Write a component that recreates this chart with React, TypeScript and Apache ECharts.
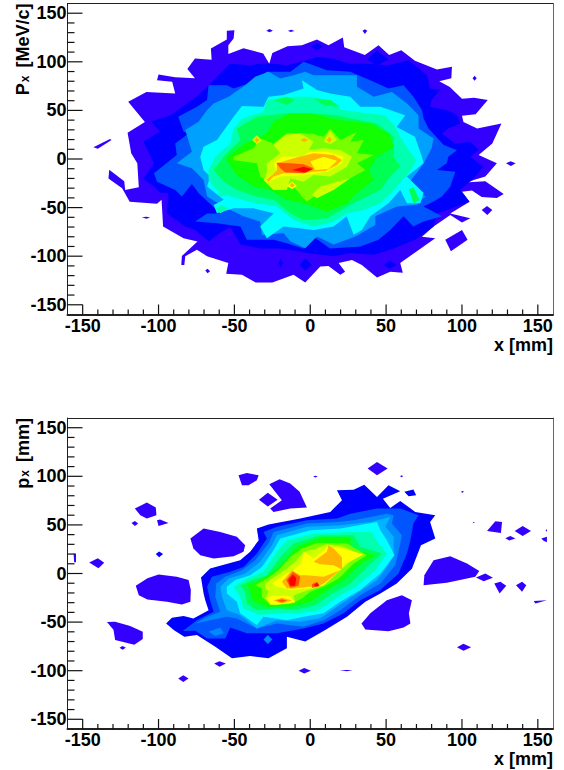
import React, { useEffect, useRef } from "react";
import * as echarts from "echarts";

const xMajorTicks = [-150, -100, -50, 0, 50, 100, 150];
const minorTicks = [-140, -130, -120, -110, -90, -80, -70, -60, -40, -30, -20, -10, 10, 20, 30, 40, 60, 70, 80, 90, 110, 120, 130, 140];
const palette = ["#3300ff", "#0000ff", "#0055ff", "#0088ff", "#00b4ff", "#00ffff", "#00ffb0", "#00ff55", "#11ff00", "#77ff00", "#ccff00", "#ffff00", "#ffb400", "#ff5500", "#ff0000", "#00a0ff"];

// ---- top panel: contour polygons in [x mm, Px MeV/c]
const topViolet = [
  [[-55,132],[-50,132.5],[-50.5,124],[-54,117],[-54,108],[-44,114],[-31,108.5],[-27,98],[-25,109],[-15,116],[-5.5,117],[4.4,123],[12,117],[21.5,125],[22.4,115],[36,107],[45,117],[52,107],[60,112],[69,101],[83.5,92],[93.4,95],[93,83],[85,80],[92,74],[100,62],[108,63],[117,60.6],[109,46],[100,44.5],[101,38],[110,31.5],[126,36.6],[120,16],[111,4],[123,-4.5],[115.4,-18],[107.7,-21.6],[104.4,-24],[115.4,-23],[127.5,-36],[123,-40],[113,-39],[106.6,-32.5],[100,-33.6],[105,-44],[92.3,-56],[105.5,-61],[100,-65.4],[92.3,-57.5],[81.3,-69.5],[73.6,-80],[82.4,-81.5],[59.3,-107],[61,-117],[52.7,-116],[44,-122],[34,-109],[27.5,-104],[18.7,-107],[23,-116],[19.8,-119],[12,-110],[6.6,-110.6],[-3.3,-127],[-11,-119],[-25,-127],[-36,-127],[-45,-119],[-55.4,-118],[-54,-107],[-68,-100],[-74.7,-93.5],[-82.4,-100],[-83,-109],[-85,-109],[-84.6,-99.7],[-74.3,-85],[-83.5,-81.5],[-97,-69.5],[-98,-42],[-101,-46],[-119,-44],[-124,-30],[-133,-20],[-132.5,-11],[-122.6,-23],[-122,-32],[-113,-29],[-114,-4.5],[-118,6],[-120.4,27],[-109,38],[-120,59],[-108,69],[-89,67.5],[-91,79.5],[-101,81],[-100,87],[-89,84],[-76,83],[-81,92.5],[-76,103.4],[-65,102],[-65.5,113.7],[-55,123]],
  [[-142.9,12],[-132,20.5],[-131,19.5],[-140,10.6]],
  [[-111,-60],[-108,-59.3],[-105.5,-60.3],[-108,-61.6]],
  [[-69.2,-114.8],[-67.7,-112.8],[-66,-115.5],[-67.7,-117.5]],
  [[-29,132],[-26.8,133.8],[-24.6,132],[-26.8,130.5]],
  [[-14.7,132],[-12.5,133],[-10.4,131.8],[-13,130.8]],
  [[34.5,132],[36,133.5],[37.6,132],[36,128.6]],
  [[107,83],[108.3,85.6],[109.7,83],[108.3,80.5]],
  [[129,-4.5],[132,-2.4],[135.4,-4.5],[132.3,-7.2]],
  [[113,-52.4],[116.5,-48.3],[120,-52.4],[116.7,-57.5]],
  [[89,-83],[100,-73],[103.7,-83],[92.7,-95]],
];
const topBlue = [
  [[-110,-20.5],[-103,-4.4],[-110,18],[-99,28],[-105,38.7],[-92,45],[-75,64],[-68,74],[-53,98],[-39.6,96.5],[-33,98],[-24,98],[-15.4,96.5],[-5.5,100],[4.4,105],[14.3,103.4],[26.4,98],[37.4,98],[51.6,96.5],[65,101.7],[77,86],[79,72.6],[85.7,71],[80,60.6],[79,53.8],[91,50],[96.7,45],[99,36.6],[91,31.5],[86.8,26],[95.6,16],[105.5,17.8],[111,9],[105.5,2.4],[114,-8],[108.8,-18],[99,-32],[105,-44],[91,-52],[83.5,-56],[81.3,-69.5],[69,-83],[55,-92],[41.8,-98.6],[26.4,-97],[15.4,-100],[-1,-97],[-19.8,-92],[-33,-92],[-46,-88],[-52.7,-70],[-59.3,-76],[-67,-85],[-75.8,-73],[-82.4,-69.5],[-94.5,-56],[-93.4,-35],[-99,-34.6],[-103,-28.4]],
  [[-7,-109],[-3.3,-102],[1,-109],[-3.3,-115]],
  [[-21,-107],[-19.3,-102],[-18,-107],[-19.3,-112]],
  [[48.4,-109],[52.4,-104.8],[57,-109],[52.4,-112.8]],
  [[0.4,115.5],[4.4,119.5],[8.4,115.5],[4.4,112]],
  [[37.4,102],[44,112],[51.6,102],[44,96.5]],
];
const topMid = [
  [[-103,-14.7],[-88,4],[-89,16],[-80,26.4],[-83.5,28],[-87,43.5],[-74.7,53.8],[-68,60.6],[-67,76],[-55,76],[-50.5,72.6],[-40.7,77.7],[-28.6,89.7],[-13,89.7],[-4.4,100],[11,91.4],[26.4,89.7],[41.8,79.5],[51.6,72.6],[61.5,76],[68,64],[73.6,50.3],[74.7,41.8],[78,31.5],[88,14.4],[96.7,9],[91,2.4],[90,-4.4],[83.5,-11.3],[95.6,-13],[92.3,-28.4],[86.8,-38.7],[81.3,-43.8],[74.7,-49],[86.8,-59],[74.7,-64.4],[68,-69.5],[61.5,-59],[52.7,-73],[45,-83],[33,-90],[13,-92],[2.2,-80],[-4.4,-92],[-15.4,-86.6],[-24,-83],[-41.8,-83],[-46,-69.5],[-61.5,-66],[-75.8,-64.4],[-68,-56],[-59.3,-56],[-73.6,-35],[-78,-25.7],[-84.6,-38.7],[-89,-32],[-101,-23.3]],
];
const topAzure = [
  [[-88,-4.4],[-78,7.5],[-82.4,29.8],[-73.6,38.4],[-68,50.3],[-63.7,57],[-53.8,64],[-42.9,76],[-36.3,84.6],[-27.5,89.7],[-19.8,82.9],[-11,86.3],[-3.3,89.7],[2.2,86.3],[17.6,86.3],[30.8,86.3],[30.8,74.3],[41.8,64],[53.8,69],[63.7,57],[71.4,45],[71.4,31.5],[81.3,21],[80,11],[74.7,-4.4],[70,-14.7],[64.8,-25],[75.8,-38.7],[70,-47],[57,-49],[42.9,-59],[42.9,-67.8],[29.7,-79.8],[15.4,-88],[4.4,-79.8],[-3.3,-91.8],[-13,-85],[-17.6,-76.4],[-31.9,-78],[-33,-64.4],[-44,-59],[-55,-50.7],[-68,-38.7],[-70.3,-21.6],[-78,-9.6]],
];
const topCyan = [
  [[-72.5,2.4],[-70.3,12.7],[-61.5,19.5],[-50.5,43.5],[-45,54.5],[-30.8,53.8],[-27.5,64],[-17.6,65.8],[-4.4,72.6],[-5.5,81],[4.4,70.9],[13.2,67.5],[26.4,64],[33,53.8],[46.2,53.8],[62.6,45],[57,33],[69,23],[73.6,2.4],[74.7,-4.4],[63.7,-18],[74.7,-35],[72.5,-45.5],[63.7,-45.5],[59.3,-32],[51.6,-45.5],[39.6,-59],[34,-73],[28.6,-78],[24,-59],[15.4,-69.5],[2.2,-73],[-8.8,-71],[-17.6,-69.5],[-28.6,-81.5],[-33,-69.5],[-24,-55.8],[-37.4,-50.7],[-50.5,-50.7],[-61.5,-55.8],[-63.7,-47.3],[-57,-42],[-68,-28.4],[-66,-18],[-70.3,-11.3]],
];
const topAqua = [
  [[-67,-11.3],[-62.6,2.4],[-52.7,16],[-50.5,31.5],[-45,41.8],[-30.8,48.6],[-28.6,60.6],[-11,64],[0,64],[11,60.6],[20.9,50.3],[37.4,47],[49.5,45],[56,33.2],[59.3,23],[64.8,9.2],[70,-1],[64.8,-14.7],[55,-32],[46.2,-45.5],[35.2,-52.4],[24.2,-55.8],[15.4,-64.4],[2.2,-69.5],[-11,-62.7],[-22,-49],[-35.2,-45.5],[-52.7,-38.7],[-61.5,-31.8],[-67,-21.6]],
  [[-61.5,-35],[-54.9,-33.5],[-52.7,-37],[-59.3,-38.5]],
  [[-62.6,-51],[-58.2,-47.3],[-53.8,-51],[-59.3,-55.8]],
];
const topSpring = [
  [[-63.7,-11.3],[-57,2.4],[-46,19.5],[-48.4,31.5],[-35.2,43.5],[-15.4,47],[0,47],[17.6,45],[33,40],[44,36.6],[55,23],[55,2.4],[59.3,-8],[52.7,-18],[46.2,-32],[33,-42],[24.2,-49],[11,-61],[-4.4,-62.7],[-13.2,-55.8],[-24,-42],[-35.2,-38.7],[-48.4,-31.8],[-57,-23.3]],
  [[-24.2,60.6],[-15.4,64],[-10,60.6],[-15.4,55.5]],
  [[2.2,62.3],[13.2,60.6],[19.8,53.8],[8.8,55.5]],
  [[65,-31],[68,-29],[72,-42],[68,-46]],
];
const topGreen = [
  [[-55,2.4],[-42.9,16],[-28.6,26.4],[-24,38.4],[-13.2,47],[0,47],[19.8,40],[39.6,36.6],[51.6,26.4],[55,12.7],[44,2.4],[38.5,-11.3],[41.8,-21.6],[33,-31.8],[24.2,-45.5],[11,-54],[-4.4,-45.5],[-15.4,-42],[-26.4,-31.8],[-37.4,-28.4],[-48.4,-16.4],[-53.8,-4.4]],
];
const topLime = [
  [[-50.5,2.4],[-37.4,11],[-33,21.2],[-24.2,16],[-15.4,26.4],[0,26.4],[8.8,23],[13.2,31.5],[19.8,19.5],[30.8,28],[26.4,17.8],[35.2,19.5],[30.8,5.8],[41.8,4],[30.8,-4.4],[36.3,-11.3],[24.2,-21.6],[8.8,-31.8],[-2.2,-43.8],[-5.5,-38.7],[-11,-28.4],[-24.2,-26.7],[-33,-18],[-35.2,-4.4],[-50.5,-1]],
];
const topChartreuse = [
  [[-28.6,-4.4],[-19.8,5.8],[-24.2,14.4],[-16.5,24.7],[-6.6,26.4],[2.2,17.8],[-1,9.2],[8.8,11],[19.8,9.2],[27.5,2.4],[24.2,-7.9],[13.2,-18],[2.2,-16.4],[-4.4,-23.3],[-13.2,-19.9],[-15.4,-31.8],[-24.2,-31.8],[-30.8,-21.6],[-28.6,-14.7]],
  [[8.8,17.8],[12.7,29.8],[17.6,19.5],[13.2,15.4]],
  [[1.1,-37],[6.6,-28.4],[22,-21.6],[26.4,-19.9],[15.4,-31.8],[4.4,-40.4]],
  [[-38.5,19.5],[-35.2,24.7],[-31.9,18.8],[-35.2,15.4]],
];
const topYellow = [
  [[-24.2,-4.4],[-18.7,2.4],[-6.6,2.4],[0,7.5],[11,7.5],[22,2.4],[20.9,-4.4],[11,-13],[-4.4,-16.4],[-19.8,-18],[-27.5,-23.3],[-28.6,-19.9],[-22,-13]],
  [[-15.4,-27.7],[-12,-23.3],[-8.8,-27.7],[-12,-31.2]],
];
const topAmber = [
  [[-22,-4.4],[-11,0.7],[2.2,5.8],[15.4,4],[20.9,-1],[17.6,-6.2],[9.9,-12.3],[2.2,-13],[-4.4,-14.7],[-17.6,-14.7],[-24.2,-18],[-27.5,-23.3],[-28.6,-21],[-22,-12]],
  [[-36.5,19.5],[-35.2,22],[-33.5,19.5],[-35.2,16.5]],
  [[-6.5,19.5],[-4,21.5],[-1.2,19.5],[-4,17.5]],
  [[10.8,19.5],[12.5,23],[14.3,19.5],[12.5,16.5]],
  [[-13.5,-27],[-12,-24.8],[-10.2,-27],[-12,-29.5]],
];
const topHole = [[[0,-2.7],[8.8,2.4],[17.6,-1.7],[12,-10.3],[3.3,-11.3]]];
const topOrange = [[[-22.4,-3.8],[-13.2,-4.4],[-4.4,-5.5],[2.2,-9.6],[-4.4,-14.7],[-16.5,-13.7],[-19.8,-9.6]]];
const topRed = [[[-12,-11.3],[-4.4,-7.9],[1.8,-10.6],[-3.3,-14]]];

// ---- bottom panel: contour polygons in [x mm, px mm]
const botViolet = [
  [[37.8,108],[44,114.7],[51,108],[44,101]],
  [[2,99.7],[3.3,100.7],[5,99.7],[3.3,98.7]],
  [[59.2,100],[60.2,101],[61.2,100],[60.2,99]],
  [[-47.3,101],[-41.8,103.4],[-34,101],[-35.2,96],[-40.7,90.8],[-45,90.8]],
  [[-27,91.8],[-20.2,97],[-13.2,92.5],[-7,84],[-2.2,67.8],[-13.2,66.8],[-24.2,63.4],[-26.4,66.8],[-18.7,75.3]],
  [[-33.8,76],[-28,83],[-21.5,76],[-28,69]],
  [[-115.6,66.8],[-107.7,73],[-101.8,67.8],[-101.4,60],[-107.7,56.5],[-112,60]],
  [[-117.8,52],[-115.6,54],[-113.4,51.4],[-115.6,49]],
  [[-101,54.8],[-99,55.5],[-93.4,52],[-100,49]],
  [[-79,36],[-70.3,46.2],[-59.3,42.8],[-48.4,37.7],[-42.9,29],[-44,22.3],[-50.5,17.8],[-63.7,15.4],[-72.5,18.8],[-77,25.7]],
  [[-145.7,11.3],[-140,15.8],[-135.8,11],[-139.6,5.5]],
  [[-156,20.5],[-154.4,20.5],[-154.4,11.6],[-155.6,11.6]],
  [[-115,-12.7],[-107.3,-5],[-100,-1],[-88,-3.4],[-80.2,-6.8],[-78.7,-17],[-79,-29],[-84.6,-31.8],[-94.5,-29],[-107.3,-26.7],[-113,-22.3]],
  [[-134,-50],[-128.6,-49.7],[-118.7,-54],[-110.4,-60],[-110.4,-67.5],[-116,-73.3],[-128.6,-68.5],[-129.7,-58]],
  [[-125.7,-76.4],[-123.7,-74.7],[-121.5,-76.4],[-123.7,-78.4]],
  [[-63.3,-92.5],[-59.8,-90.4],[-55.6,-92.5],[-59.8,-96]],
  [[-87,-108],[-83.7,-104.8],[-80.2,-108],[-83.7,-111.6]],
  [[-7.7,-100],[-4,-97.2],[0.4,-100],[-4,-102.8]],
  [[19.3,-99.3],[28,-99.3],[24.2,-100.7]],
  [[96.7,-76],[101,-72.3],[106,-76],[101,-79.5]],
  [[33.8,-51.4],[39.6,-41],[50.5,-27.4],[60.4,-22.3],[67,-27.4],[65,-41],[66,-51.4],[61.5,-55.5],[51.6,-59.3],[36.3,-57.5]],
  [[74.7,-12],[75.2,-1.7],[81.3,13.7],[92.3,17.8],[103.3,10.3],[111.4,2.7],[108.8,-3.4],[90,-9.6]],
  [[109.2,-4],[115.4,0],[120.4,-4.4],[114.3,-7.9]],
  [[121.3,-10.3],[125.3,-8.6],[129.2,-12.7],[124.8,-20.5]],
  [[135.6,-12],[139.6,-8.6],[142.4,-12],[139.6,-18.8]],
  [[147.3,-28.4],[156,-27.4],[148.4,-30.8]],
  [[116.5,43.8],[122,53.8],[126.4,53],[125.7,41.8]],
  [[134.7,43.8],[140,49],[145.5,43.8],[140,38.7]],
  [[128.6,36.3],[131.9,38.7],[135.2,36],[131.2,34]],
  [[152.3,36],[156,37.7],[156,32.2],[153.8,33.6]],
  [[155,44.5],[156,45.5],[156,43]],
];
const botBlue = [
  [[-95,-51.4],[-91.2,-45.5],[-83.5,-43.8],[-77,-46.2],[-67,-37.7],[-69.2,-27.4],[-70.3,-20.5],[-72,-4],[-66,5.1],[-46.2,13.7],[-39.6,22.3],[-34,34.2],[-35.2,46.2],[-27.5,50.3],[-6.6,56.5],[13.2,63.4],[20.9,75.3],[17.6,85.6],[28.6,86.3],[35.6,91.4],[44,78.8],[51.6,90.8],[59.3,84.6],[47.9,77],[52.7,67.5],[59.3,74.7],[69.2,63.4],[82.4,60],[79,53],[82.4,36],[73,29],[67,5],[57,-10.3],[46.2,-20.5],[36.3,-29],[24.2,-44.5],[9.9,-58.2],[-3.3,-70],[-15.4,-65],[-15.4,-77],[-27.5,-87.3],[-39.6,-85],[-51.6,-87.3],[-62.6,-75.3],[-74.7,-63.4],[-83,-65],[-90,-58.2]],
  [[-101.8,20],[-99.6,22.6],[-97,20],[-99.6,16.8]],
  [[62,84],[68,86.5],[69.8,80.5],[64.8,79.5]],
  [[107,52.5],[107.7,53],[108.5,52.5],[107.7,52]],
  [[99.3,84],[100.3,85],[101.3,84],[100.3,83]],
];
const botMid = [
  [[-84,-59.2],[-74.7,-48],[-63.7,-39.4],[-66,-27.4],[-68,-13.7],[-64.8,-3.4],[-52.7,1.7],[-44,6.8],[-35.2,20.5],[-28.6,36],[-30.8,42.8],[-22,48],[-2.2,54.8],[17.6,56.5],[26.4,61.6],[44,66.8],[59.3,66.8],[71.4,60],[68,51.4],[66,34.2],[63.7,20.5],[58.2,0],[46.2,-17],[33,-27.4],[22,-41],[8.8,-51.4],[-4.4,-56.5],[-22,-61.6],[-33,-61.6],[-41.8,-61.6],[-52.7,-55.5],[-56,-66.8],[-68,-66.8],[-75.8,-59]],
];
const botAzure = [
  [[-75.8,-51.4],[-68,-44.5],[-59.3,-39.4],[-62.6,-24],[-62,-10.3],[-56,-3.4],[-45,3.4],[-36.3,13.7],[-27.5,30.8],[-24.2,42.8],[-2.2,51.4],[17.6,53],[28.6,54.8],[50.5,61.6],[55,60],[53.8,51.4],[60.4,39.4],[58.2,22.3],[56,8.6],[46.2,-10.3],[33,-22.3],[19.8,-37.7],[8.8,-48],[-4.4,-54.8],[-22,-51.4],[-35.2,-56.5],[-48.4,-46.2],[-55,-44.5]],
  [[-30.8,-67.8],[-28,-63.4],[-25,-67.8],[-28,-72.6]],
  [[-67,-60],[-59.3,-55.5],[-57,-61.6],[-62.6,-64.4]],
];
const botSky = [
  [[-58.2,-24],[-59.3,-13.7],[-53.8,-5.1],[-42.9,0],[-33,12],[-25.3,29],[-22,39.4],[-2.2,48],[19.8,49.7],[39.6,53],[52.7,58.2],[49.5,48],[55,37.7],[55,22.3],[51.6,8.6],[44,-6.8],[30.8,-20.5],[17.6,-34.2],[6.6,-46.2],[-6.6,-49.7],[-22,-48],[-35.2,-56.5],[-46.2,-42.8],[-55,-37.7]],
];
const botCyan = [
  [[-55,-13.7],[-49.5,-6.8],[-39.6,-1.7],[-31.9,6.8],[-24.2,24],[-19.8,36],[0,44.5],[19.8,46.2],[44,53],[46.2,44.5],[50.5,34.2],[55.6,18.8],[46.2,0],[33,-17],[19.8,-29],[8.8,-41],[-4.4,-44.5],[-15.4,-48],[-30.8,-44.5],[-35.2,-53],[-46.2,-41],[-48.4,-29],[-55,-20.5]],
];
const botAqua = [
  [[-50.5,-13.7],[-41.8,-5.1],[-30.8,1.7],[-22,22.3],[-15.4,34.2],[2.2,41],[24.2,42.8],[40.7,42.8],[45,30.8],[50.5,20.5],[42.9,3.4],[29.7,-13.7],[16.5,-25.7],[5.5,-37.7],[-7.7,-41],[-19.8,-41],[-33,-42.8],[-44,-36],[-46.2,-24]],
];
const botSpring = [
  [[-46.2,-12],[-38.5,-6.8],[-28.6,-1.7],[-18.7,18.8],[-11,30.8],[6.6,39.4],[28.6,39.4],[33,27.4],[47.3,20.5],[37.4,6.8],[26.4,-10.3],[14.3,-20.5],[3.3,-32.5],[-8.8,-37],[-22,-36],[-35.2,-37.7],[-41.8,-30.8],[-42.9,-18.8]],
];
const botGreen = [
  [[-41.8,-12],[-33,-6.8],[-24.2,1.7],[-16.5,13.7],[-8.8,27.4],[8.8,37.7],[26.4,37],[26.4,25.7],[42.9,18.8],[33,10.3],[22,-6.8],[11,-17],[0,-29],[-13.2,-34.2],[-28.6,-34.2],[-37.4,-29],[-39.6,-18.8]],
];
const botLime = [
  [[-36.3,-12],[-28.6,-5.1],[-20.9,3.4],[-13.2,17],[-5.5,25.7],[4.4,31.5],[24.2,30.8],[37.4,18.8],[28.6,10.3],[18.7,-5.1],[8.8,-13.7],[0,-18.8],[-5.5,-25.7],[-13.2,-31.5],[-26.4,-32.5],[-31.9,-24],[-31.9,-15.4]],
];
const botChartreuse = [
  [[-29.7,-10.3],[-22,-1.7],[-15.4,5],[-8.8,13.7],[-4.4,22.3],[4.4,25.7],[11,30],[22,27.4],[34,18.8],[26.4,12],[18.7,1.7],[8.8,-12],[-1,-17],[-11,-22.3],[-10,-30],[-24,-32.5],[-29.7,-25.7],[-27.5,-18.8],[-29.7,-15.4]],
];
const botYellow = [
  [[-25.3,-10.3],[-17.6,-1.7],[-11,3.4],[-5.5,12],[-4.4,22.3],[2.2,15.4],[11,27.4],[22,25.7],[35,19.5],[23,10.3],[19.8,3.4],[8.8,-12],[-1,-15.4],[-13.2,-17],[-22,-13.7]],
  [[-28.6,-25.7],[-24.2,-22.3],[-13.2,-23.3],[-10,-29],[-22,-31.8],[-26.4,-31.8]],
];
const botAmber = [
  [[2.2,12],[11,22.3],[12,29],[15.4,25.7],[20.9,16.4],[20.9,4],[15.4,8.6],[6.6,9.6]],
  [[-18.7,-8.6],[-12,3.4],[-6.6,-1.7],[-2.2,-1.7],[8.8,-3.4],[19.8,3.4],[8.8,-10.3],[4.4,-13.7],[-1,-13.7],[-11,-15.4],[-15.4,-15.4]],
  [[-24.2,-27.7],[-18.7,-25],[-12,-27.7],[-18.7,-30.8]],
];
const botOrange = [
  [[-15.8,-6.8],[-11.6,1.7],[-6.6,-3.4],[-7.7,-12.7],[-13.2,-14.7]],
  [[1.1,-11],[4.4,-8.6],[6.2,-13],[1.1,-14.7]],
  [[-22.4,-27.7],[-18.7,-26.4],[-15.4,-27.7],[-18.7,-29.5]],
];
const botRed = [
  [[-14.5,-6.8],[-11.4,-1],[-9.2,-5],[-10,-12.7],[-13.2,-12.7]],
  [[2.6,-11],[4.8,-9.6],[5.9,-12.7],[3.3,-13.4]],
];

const topLayers: [number[][][], number][] = [
  [topViolet, 0], [topBlue, 1], [topMid, 2], [topAzure, 15], [topCyan, 5], [topAqua, 6], [topSpring, 7], [topGreen, 8],
  [topLime, 9], [topChartreuse, 10], [topYellow, 11], [topAmber, 12], [topHole, 11], [topOrange, 13], [topRed, 14],
];
const botLayers: [number[][][], number][] = [
  [botViolet, 0], [botBlue, 1], [botMid, 2], [botAzure, 3], [botSky, 4], [botCyan, 5], [botAqua, 6], [botSpring, 7],
  [botGreen, 8], [botLime, 9], [botChartreuse, 10], [botYellow, 11], [botAmber, 12], [botOrange, 13], [botRed, 14],
];

const font = "Liberation Sans";
const boldText = { fontFamily: font, fontWeight: "bold", fontSize: 18, color: "#000" };
const frameEdge = -160;

function contourSeries(layers: [number[][][], number][], axisIndex: number) {
  const polys = layers.flatMap(([list, band]) => list.map((points) => ({ points, band })));
  return {
    type: "custom",
    coordinateSystem: "cartesian2d",
    xAxisIndex: axisIndex,
    yAxisIndex: axisIndex,
    clip: false,
    data: polys.map((p) => p.points[0]),
    renderItem: (params: any, api: any) => {
      const p = polys[params.dataIndex];
      return {
        type: "polygon",
        shape: { points: p.points.map((pt) => api.coord(pt)) },
        style: { fill: palette[p.band] },
      };
    },
  };
}

function tickGraphics(chart: any, axisIndex: number, values: number[], horizontal: boolean, length: number) {
  return values.map((v) => {
    const p = chart.convertToPixel({ xAxisIndex: axisIndex, yAxisIndex: axisIndex }, horizontal ? [v, frameEdge] : [frameEdge, v]);
    return {
      type: "line",
      silent: true,
      z: 100,
      shape: horizontal ? { x1: p[0], y1: p[1], x2: p[0], y2: p[1] - length } : { x1: p[0], y1: p[1], x2: p[0] + length, y2: p[1] },
      style: { stroke: "#111", lineWidth: 1.2 },
    };
  });
}

function xAxes(gridIndex: number) {
  const base = { type: "value", gridIndex, min: -160, max: 160, splitLine: { show: false } };
  return [
    {
      ...base,
      position: "bottom",
      name: "x [mm]",
      nameLocation: "end",
      nameGap: 0,
      nameTextStyle: { ...boldText, align: "right", verticalAlign: "top", padding: [21, 0, 0, 0] },
      axisLine: { show: true, onZero: false, lineStyle: { color: "#222", width: 2 } },
      axisTick: { show: false },
      axisLabel: { ...boldText, margin: 2, customValues: xMajorTicks },
    },
    {
      ...base,
      position: "top",
      axisLine: { show: true, onZero: false, lineStyle: { color: "#222", width: 1 } },
      axisTick: { show: false },
      axisLabel: { show: false },
    },
  ];
}

function yAxes(gridIndex: number, name: string, gap: number) {
  const base = { type: "value", gridIndex, min: -160, max: 160, splitLine: { show: false } };
  return [
    {
      ...base,
      position: "left",
      name,
      nameLocation: "end",
      nameRotate: 90,
      nameGap: 0,
      nameTextStyle: {
        align: "right",
        verticalAlign: "bottom",
        padding: [0, 0, gap, 0],
        rich: {
          t: { ...boldText, verticalAlign: "top" },
          s: { ...boldText, fontSize: 12, height: 22, verticalAlign: "bottom", padding: [0, 3, 0, 1] },
        },
      },
      axisLine: { show: true, onZero: false, lineStyle: { color: "#222", width: 1 } },
      axisTick: { show: false },
      axisLabel: { ...boldText, margin: 1, padding: [4, 0, 0, 0], customValues: xMajorTicks },
    },
    {
      ...base,
      position: "right",
      axisLine: { show: true, onZero: false, lineStyle: { color: "#666", width: 1 } },
      axisTick: { show: false },
      axisLabel: { show: false },
    },
  ];
}

export default function App() {
  const ref = useRef<HTMLDivElement>(null);
  useEffect(() => {
    const chart = echarts.init(ref.current!, undefined, { renderer: "svg" });
    chart.setOption({
      animation: false,
      grid: [
        { left: 67.5, top: 3.5, width: 485.5, height: 311, outerBoundsMode: "none" },
        { left: 67.5, top: 418, width: 485.5, height: 311, outerBoundsMode: "none" },
      ],
      xAxis: [...xAxes(0), ...xAxes(1)],
      yAxis: [...yAxes(0, "{t|P}{s|x}{t| [MeV/c]}", 32), ...yAxes(1, "{t|p}{s|x}{t| [mm]}", 32)],
      series: [contourSeries(topLayers, 0), contourSeries(botLayers, 2)],
    });
    const ticks = [0, 2].flatMap((i) => [
      ...tickGraphics(chart, i, xMajorTicks, true, 10),
      ...tickGraphics(chart, i, minorTicks, true, 5),
      ...tickGraphics(chart, i, xMajorTicks, false, 15),
      ...tickGraphics(chart, i, minorTicks, false, 7),
    ]);
    chart.setOption({ graphic: { elements: ticks } });
    return () => chart.dispose();
  }, []);
  return <div ref={ref} style={{ position: "absolute", left: 0, top: 0, width: 564, height: 770 }} />;
}
